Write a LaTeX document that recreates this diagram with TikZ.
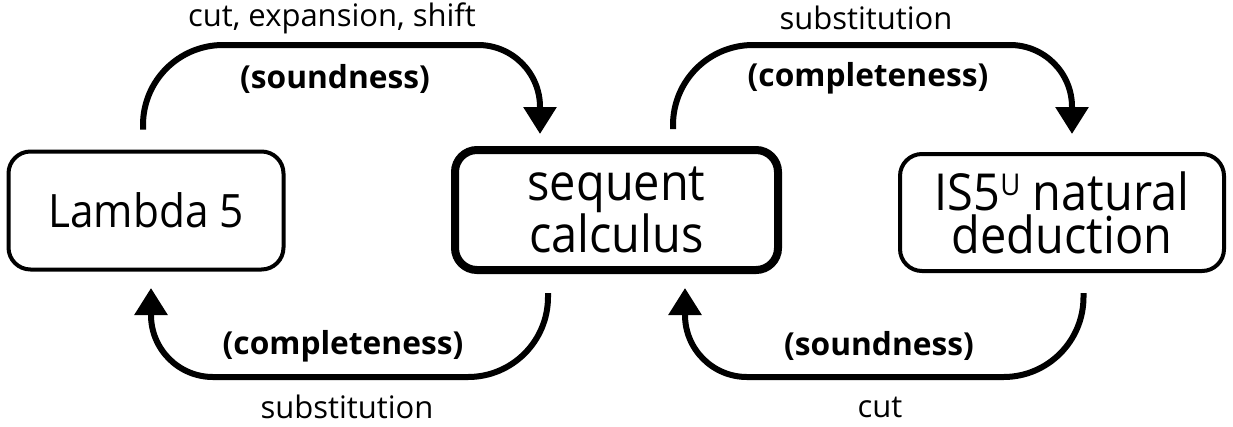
\documentclass[tikz,border=0pt]{standalone}
\usepackage{fontspec}
\setmainfont{Open Sans}
\newfontfamily\boxfont[FakeStretch=0.92]{Open Sans}
\usetikzlibrary{arrows.meta,calc}
\newcommand{\supU}{\raisebox{14.5pt}{\fontsize{30}{30}\selectfont U}}
\tikzset{
  box/.style={draw, rounded corners=22pt, line width=4pt, outer sep=0pt, align=center,
    font=\boxfont\fontsize{51}{43}\selectfont, inner sep=0pt},
  arr/.style={line width=6pt, -{Triangle[length=27pt,width=32pt]}},
  lab/.style={font=\fontsize{31}{32}\selectfont, inner sep=0pt},
  blab/.style={font=\fontsize{31.7}{32}\selectfont\bfseries, inner sep=0pt},
}
\begin{document}
\begin{tikzpicture}[x=1pt,y=-1pt]
\useasboundingbox (0,0) rectangle (1233,426);
\node[box, minimum width=275pt, minimum height=118pt, font=\boxfont\fontsize{46}{43}\selectfont] (l5) at (146,210.5) {Lambda 5};
\node[box, line width=8pt, minimum width=323pt, minimum height=120pt] (sc) at (616.5,210) {sequent\\calculus};
\node[box, minimum width=324pt, minimum height=117pt] (is5) at (1062,212.5) {IS5\supU{} natural\\deduction};
% top left
\coordinate (a1) at ([shift={(-3,-22)}]l5.north);
\coordinate (b1) at ([shift={(-76.5,-16)}]sc.north);
\draw[arr] (a1) [rounded corners=80pt] -- (a1 |- 0,45) [rounded corners=62pt] -- (b1 |- 0,45) [sharp corners] -- (b1);
% top right
\coordinate (a2) at ([shift={(56.5,-21)}]sc.north);
\coordinate (b2) at ([shift={(10,-20)}]is5.north);
\draw[arr] (a2) [rounded corners=80pt] -- (a2 |- 0,45) [rounded corners=62pt] -- (b2 |- 0,45) [sharp corners] -- (b2);
% bottom left
\coordinate (a3) at ([shift={(-68.5,23)}]sc.south);
\coordinate (b3) at ([shift={(5,18.5)}]l5.south);
\draw[arr] (a3) [rounded corners=80pt] -- (a3 |- 0,377) [rounded corners=62pt] -- (b3 |- 0,377) [sharp corners] -- (b3);
% bottom right
\coordinate (a4) at ([shift={(21.5,22)}]is5.south);
\coordinate (b4) at ([shift={(68.5,18)}]sc.south);
\draw[arr] (a4) [rounded corners=80pt] -- (a4 |- 0,377) [rounded corners=62pt] -- (b4 |- 0,377) [sharp corners] -- (b4);
% labels
\node[lab] (t1) at (332,18) {cut, expansion, shift};
\node[blab] (s1) at (335,79) {(soundness)};
\node[lab] (t2) at (866,18) {substitution};
\node[blab] (s2) at (868,78) {(completeness)};
\node[blab] (s3) at (343,346) {(completeness)};
\node[lab] (t3) at (347,407) {substitution};
\node[blab] (s4) at (879,346) {(soundness)};
\node[lab] (t4) at (880,407) {cut};
\end{tikzpicture}
\end{document}
